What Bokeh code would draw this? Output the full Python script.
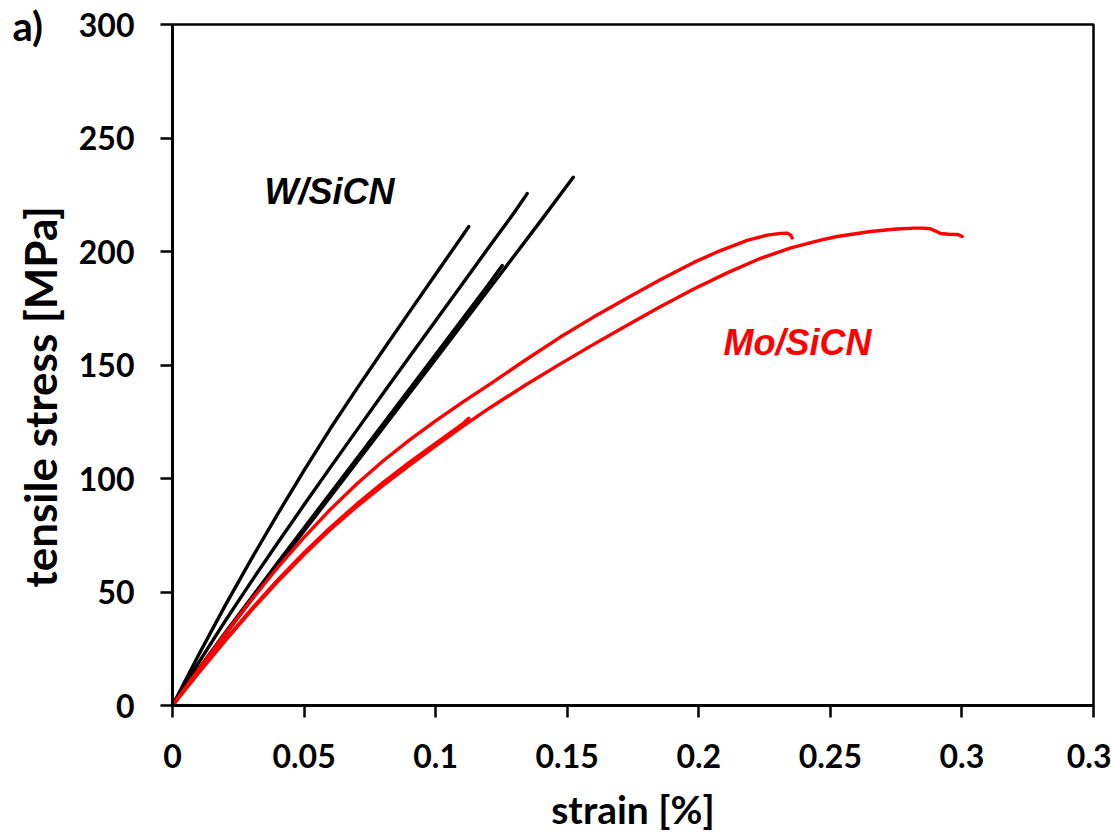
from bokeh.plotting import figure
from bokeh.models import Range1d, FixedTicker, CustomJSTickFormatter, Label, Title
from bokeh.embed import file_html
from bokeh.resources import INLINE

# ---------------- data ----------------
x_ticks = [0, 0.05, 0.1, 0.15, 0.2, 0.25, 0.3, 0.35]
x_tick_labels = ["0", "0.05", "0.1", "0.15", "0.2", "0.25", "0.3", "0.3"]
y_ticks = [0, 50, 100, 150, 200, 250, 300]

# W/SiCN samples (black): strain [%], tensile stress [MPa]
w1_strain = [0, 0.01, 0.02, 0.03, 0.04, 0.05, 0.06, 0.07, 0.08, 0.09, 0.10, 0.11, 0.1126]
w1_stress = [0, 22.5, 44, 64.6, 84.4, 103.6, 122, 139.5, 156.5, 173.3, 190, 206.6, 211]
w2_strain = [0, 0.01, 0.02, 0.03, 0.04, 0.05, 0.06, 0.07, 0.08, 0.09, 0.10, 0.11, 0.12, 0.13, 0.1348]
w2_stress = [0, 19, 37.2, 54.7, 71.7, 88.4, 104.9, 121.2, 137.4, 153.5, 169.5, 185.5, 201.5, 217.4, 225.5]
w3_strain = [0, 0.01, 0.02, 0.04, 0.06, 0.08, 0.10, 0.12, 0.14, 0.1523]
w3_stress = [0, 15.8, 31.3, 61.8, 92.0, 122.3, 152.6, 183.0, 213.6, 232.7]
w4_strain = [0, 0.01, 0.02, 0.04, 0.06, 0.08, 0.10, 0.12, 0.1253]
w4_stress = [0, 16.2, 32, 63, 93.5, 124, 154.6, 185.3, 193.8]

# Mo/SiCN samples (red)
mo1_strain = [0, 0.01, 0.02, 0.03, 0.04, 0.05, 0.06, 0.07, 0.08, 0.09, 0.10, 0.11, 0.1126]
mo1_stress = [0, 14.8, 29.0, 42.5, 55.3, 67.3, 78.4, 88.7, 98.2, 107.1, 115.5, 123.8, 126.5]
mo2_strain = [0, 0.01, 0.02, 0.03, 0.04, 0.05, 0.06, 0.07, 0.08, 0.09, 0.10, 0.11, 0.1208,
              0.134, 0.1474, 0.160, 0.1728, 0.185, 0.1981, 0.208, 0.2184, 0.226, 0.2311,
              0.2335, 0.2348, 0.2355]
mo2_stress = [0, 16, 31.6, 46.6, 60.8, 74.1, 86.4, 97.6, 107.7, 116.9, 125.4, 133.4, 141.7,
              152.1, 162.3, 171.1, 179.5, 187.3, 195.2, 200.3, 204.9, 207.2, 208.0,
              208.1, 207.4, 206]
mo3_strain = [0, 0.01, 0.02, 0.03, 0.04, 0.05, 0.06, 0.07, 0.08, 0.09, 0.10, 0.11, 0.1208,
              0.134, 0.1474, 0.160, 0.1728, 0.185, 0.1981, 0.211, 0.2235, 0.235, 0.2463,
              0.2526, 0.2653, 0.274, 0.2817, 0.285, 0.288, 0.290, 0.2919, 0.295, 0.2985, 0.3001]
mo3_stress = [0, 14.5, 28.5, 41.9, 54.6, 66.5, 77.5, 87.6, 97.0, 105.8, 114.4, 122.7, 131.3,
              141.1, 150.5, 159.1, 167.5, 175.4, 183.5, 190.7, 197.0, 201.6, 205.0,
              206.6, 208.8, 209.8, 210.3, 210.3, 210.0, 209.0, 207.9, 207.6, 207.5, 206.6]

# ---------------- figure ----------------
p = figure(frame_width=921, frame_height=681,
           min_border_left=172, min_border_right=18,
           min_border_top=24, min_border_bottom=130,
           x_range=Range1d(0, 0.35), y_range=Range1d(0, 300),
           output_backend="svg", toolbar_location=None,
           background_fill_color="white", border_fill_color="white")

p.xgrid.visible = False
p.ygrid.visible = False
p.outline_line_color = "black"
p.outline_line_width = 2.5
p.outline_line_alpha = 1.0

tick_font = "Lato"
for ax in (p.xaxis[0], p.yaxis[0]):
    ax.axis_line_color = "black"
    ax.axis_line_width = 3
    ax.major_tick_line_color = "black"
    ax.major_tick_line_width = 2.5
    ax.major_tick_out = 12
    ax.major_tick_in = 0
    ax.minor_tick_line_color = None
    ax.major_label_text_font = tick_font
    ax.major_label_text_font_style = "bold"
    ax.major_label_text_font_size = "32px"
    ax.major_label_text_color = "black"
    ax.major_label_standoff = 26
    ax.axis_label_text_font = tick_font
    ax.axis_label_text_font_style = "bold"
    ax.axis_label_text_color = "black"

p.xaxis.ticker = FixedTicker(ticks=x_ticks)
p.xaxis.formatter = CustomJSTickFormatter(
    args=dict(tick_vals=x_ticks, tick_text=x_tick_labels),
    code="""
let best = 0, bd = 1e9;
for (let i = 0; i < tick_vals.length; i++) {
  const d = Math.abs(tick_vals[i] - tick);
  if (d < bd) { bd = d; best = i; }
}
return tick_text[best];
""")
p.yaxis.ticker = FixedTicker(ticks=y_ticks)

p.xaxis.axis_label = "strain [%]"
p.xaxis.axis_label_text_font_size = "39px"
p.xaxis.axis_label_standoff = 15

# y-axis title as a side title (placed a little below the frame centre, as in the original)
ytitle = Title(text="tensile stress [MPa]", align="left", offset=118,
               vertical_align="bottom", standoff=20,
               text_font=tick_font, text_font_style="bold", text_font_size="44px",
               text_color="black")
p.add_layout(ytitle, "left")

# panel letter as the plot title, pulled into the top-left corner
p.title.text = "a)"
p.title.align = "left"
p.title.vertical_align = "bottom"
p.title.offset = -160
p.title.standoff = -50
p.title.text_font = tick_font
p.title.text_font_style = "bold"
p.title.text_font_size = "40px"
p.title.text_color = "black"

# curves
for xs, ys in [(w1_strain, w1_stress), (w2_strain, w2_stress),
               (w3_strain, w3_stress), (w4_strain, w4_stress)]:
    p.line(xs, ys, line_color="black", line_width=3.4, line_join="round", line_cap="round")
for xs, ys in [(mo1_strain, mo1_stress), (mo2_strain, mo2_stress), (mo3_strain, mo3_stress)]:
    p.line(xs, ys, line_color="#ff0000", line_width=3.4, line_join="round", line_cap="round")

# annotations
p.add_layout(Label(x=0.0597, y=226.6, text="W/SiCN", text_font="Liberation Sans",
                   text_font_style="bold italic", text_font_size="36px",
                   text_color="black", text_align="center", text_baseline="middle"))
p.add_layout(Label(x=0.2375, y=159.7, text="Mo/SiCN", text_font="Liberation Sans",
                   text_font_style="bold italic", text_font_size="36px",
                   text_color="#ff0000", text_align="center", text_baseline="middle"))

open("out.html", "w").write(file_html(p, INLINE))
